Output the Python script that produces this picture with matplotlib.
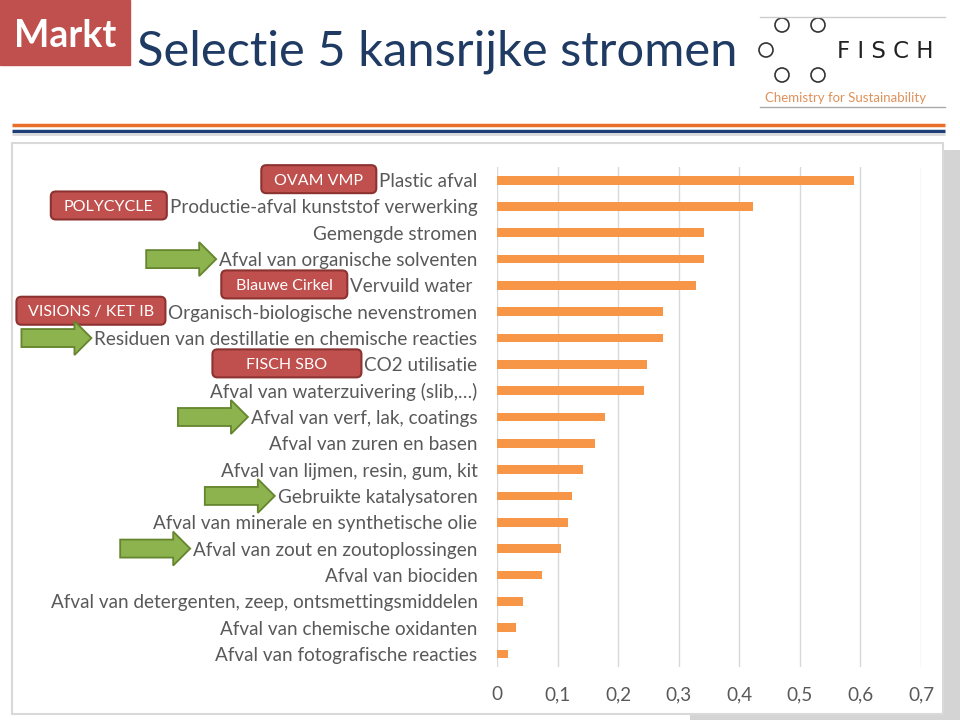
import matplotlib
matplotlib.use('Agg')
import matplotlib.pyplot as plt
import numpy as np
from matplotlib.patches import Rectangle, FancyBboxPatch, Polygon, Circle

plt.rcParams['font.family'] = ['Lato', 'DejaVu Sans']

##### data
categories = ['Plastic afval',
              'Productie-afval kunststof verwerking',
              'Gemengde stromen',
              'Afval van organische solventen',
              'Vervuild water ',
              'Organisch-biologische nevenstromen',
              'Residuen van destillatie en chemische reacties',
              'CO2 utilisatie',
              'Afval van waterzuivering (slib,…)',
              'Afval van verf, lak, coatings',
              'Afval van zuren en basen',
              'Afval van lijmen, resin, gum, kit',
              'Gebruikte katalysatoren',
              'Afval van minerale en synthetische olie',
              'Afval van zout en zoutoplossingen',
              'Afval van biociden',
              'Afval van detergenten, zeep, ontsmettingsmiddelen',
              'Afval van chemische oxidanten',
              'Afval van fotografische reacties']
values = [0.590, 0.422, 0.341, 0.341, 0.329, 0.274, 0.274, 0.248, 0.243, 0.179,
          0.161, 0.142, 0.124, 0.117, 0.105, 0.075, 0.043, 0.031, 0.018]
xticks = [0, 0.1, 0.2, 0.3, 0.4, 0.5, 0.6, 0.7]
xticklabels = ['0', '0,1', '0,2', '0,3', '0,4', '0,5', '0,6', '0,7']

# project labels (row index, text, box width px)
projects = [(0, 'OVAM VMP', 115), (1, 'POLYCYCLE', 116), (4, 'Blauwe Cirkel', 126),
            (5, 'VISIONS / KET IB', 149), (7, 'FISCH SBO', 149)]
arrow_rows = [3, 6, 9, 12, 14]

W, H = 960, 720
fig = plt.figure(figsize=(9.6, 7.2), dpi=100)

# overlay in pixel coords for slide decoration
bg = fig.add_axes([0, 0, 1, 1], zorder=0)
bg.set_xlim(0, W)
bg.set_ylim(H, 0)
bg.axis('off')

# header
bg.add_patch(Rectangle((0, 0), 130, 65, color='#c0504d'))
bg.text(65, 36, 'Markt', color='white', fontsize=27, fontweight='bold', ha='center', va='center')
bg.text(137, 52, 'Selectie 5 kansrijke stromen', color='#1f3b63', fontsize=35.2, ha='left', va='center')

# logo
bg.plot([760, 945], [17, 17], c='#cccccc', lw=1)
bg.plot([760, 945], [107, 107], c='#aaaaaa', lw=1)
for cx, cy in [(782, 25), (818, 25), (766, 50), (782, 75), (818, 75)]:
    bg.add_patch(Circle((cx, cy), 7, fill=False, ec='#333333', lw=1.2))
bg.text(885, 51, 'F I S C H', color='#222222', fontsize=16.5, ha='center', va='center', fontfamily='DejaVu Sans')
bg.text(846, 98, 'Chemistry for Sustainability', color='#e0915a', fontsize=9.5, ha='center', va='center')

# lines under header
bg.plot([12, 945], [125, 125], c='#e8702a', lw=2.5, solid_capstyle='butt')
bg.plot([12, 945], [130.5, 130.5], c='#1f3f7a', lw=2.5, solid_capstyle='butt')
bg.plot([12, 945], [134, 134], c='#d9d9d9', lw=2, solid_capstyle='butt')

# panel + shadow
bg.add_patch(Rectangle((943, 150), 17, 570, color='#d4d4d4', lw=0))
bg.add_patch(Rectangle((690, 713), 270, 7, color='#d4d4d4', lw=0))
bg.add_patch(Rectangle((12, 143), 931, 571, fc='white', ec='#d9d9d9', lw=1.5))

##### chart
ax = fig.add_axes([497 / W, 1 - 667 / H, 424 / W, 500 / H], zorder=1)
ax.patch.set_alpha(0)
y = np.arange(len(categories))
ax.barh(y, values, height=0.33, color='#f79646')
ax.set_xlim(0, 0.7)
ax.set_ylim(len(categories) - 0.5, -0.5)
ax.set_yticks(y)
ax.set_yticklabels(categories, fontsize=13.6, color='#595959')
ax.set_xticks(xticks)
ax.set_xticklabels(xticklabels, fontsize=13.6, color='#595959')
ax.tick_params(axis='y', length=0, pad=14)
ax.tick_params(axis='x', length=0, pad=14)
ax.grid(axis='x', color='#d9d9d9', lw=1)
ax.set_axisbelow(True)
for s in ax.spines.values():
    s.set_visible(False)

fig.canvas.draw()
r = fig.canvas.get_renderer()
labels = ax.get_yticklabels()

def row_y(i):
    return H - ax.transData.transform((0, i))[1]

def label_left(i):
    return labels[i].get_window_extent(r).x0

# red project boxes left of labels
for i, txt, w in projects:
    x1 = label_left(i) - 3
    yc = row_y(i) - 1
    bg.add_patch(FancyBboxPatch((x1 - w, yc - 14), w, 28, boxstyle='round,pad=0,rounding_size=5',
                                fc='#c0504d', ec='#8c3331', lw=1.5, zorder=3))
    bg.text(x1 - w / 2, yc + 1.5, txt, color='white', fontsize=11.5, ha='center', va='center', zorder=4)

# green arrows left of labels
for i in arrow_rows:
    tip = label_left(i) - 3
    yc = row_y(i)
    L, hl, sw, hw = 70, 17, 9, 17
    pts = [(tip - L, yc - sw), (tip - hl, yc - sw), (tip - hl, yc - hw), (tip, yc),
           (tip - hl, yc + hw), (tip - hl, yc + sw), (tip - L, yc + sw)]
    bg.add_patch(Polygon(pts, closed=True, fc='#8cb34d', ec='#65852e', lw=1.3, zorder=3))

fig.savefig('out.png', dpi=100)
